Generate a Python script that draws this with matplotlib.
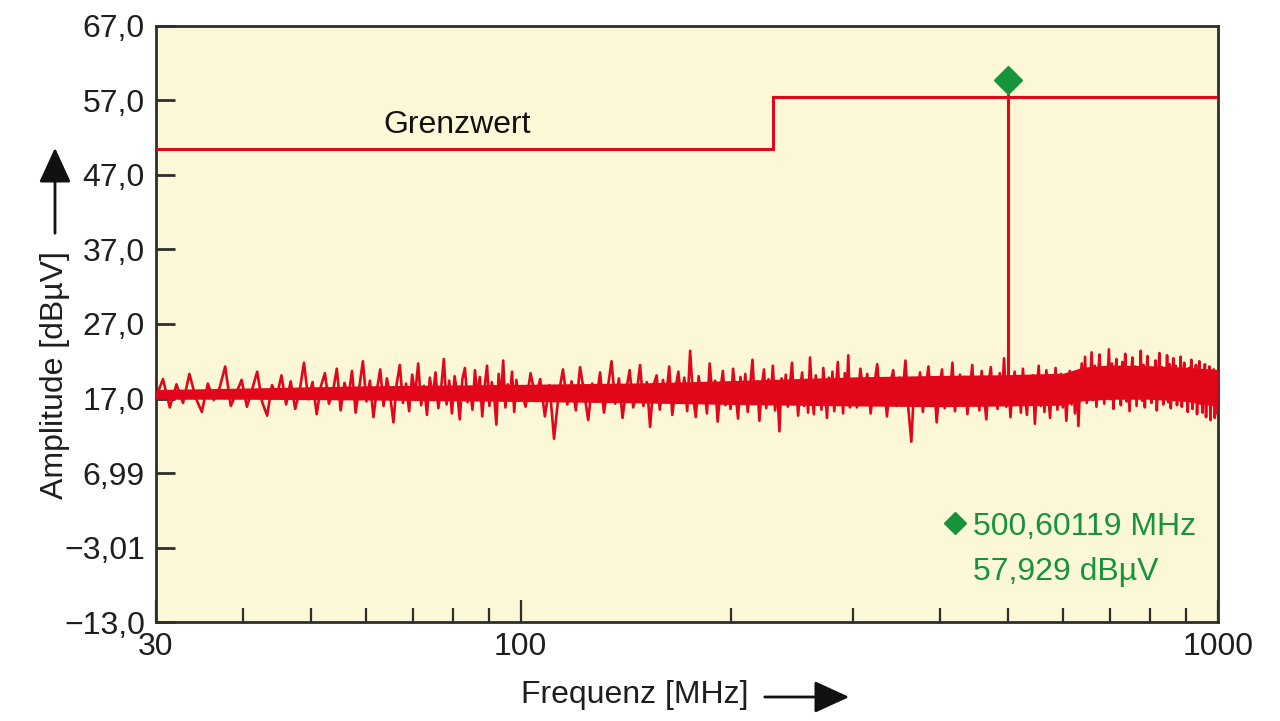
import numpy as np
import matplotlib
matplotlib.use("Agg")
import matplotlib.pyplot as plt
from matplotlib.transforms import offset_copy

plt.rcParams['font.family'] = ['Liberation Sans', 'DejaVu Sans']

# ---------------- data ----------------
# measured trace, three linear sweep segments (MHz ranges) with hand-read levels (dBuV)
seg1_range = (30, 100)
seg1 = [17.2, 19.6, 15.8, 18.9, 16.4, 20.3, 17.1, 15.2, 19.0, 16.8, 18.4, 21.3, 16.0, 17.7, 19.5,
        15.9, 18.2, 20.6, 16.5, 14.7, 18.8, 17.3, 20.1, 16.2, 19.3, 15.6, 18.0, 21.8, 16.9, 19.2,
        14.9, 18.6, 20.4, 16.3, 17.9, 21.0, 15.4, 19.1, 17.0, 20.7, 15.1, 18.5, 22.0, 16.6, 19.4,
        14.5, 18.1, 20.9, 16.0, 19.7, 17.4, 13.8, 18.9, 21.5, 16.4, 19.0, 15.3, 20.2, 17.6, 21.7,
        16.1, 18.7, 14.8, 19.8, 17.2, 20.5, 15.7, 18.3, 22.3, 16.2, 19.4, 15.0, 20.0, 17.8, 14.2,
        19.6, 21.1, 16.5, 18.4, 15.5, 20.8, 17.3, 19.9, 14.6, 18.6, 21.4, 16.0, 19.2, 17.5, 13.5,
        20.3, 16.8, 22.1, 15.8, 18.9, 17.1, 20.6, 15.2, 19.5, 16.7]
seg2_range = (100, 300)
seg2 = [18.3, 15.9, 20.4, 17.1, 19.6, 14.6, 18.8, 11.6, 17.5, 20.9, 16.2, 19.3, 15.4, 21.2, 17.8,
        14.1, 19.0, 16.6, 20.5, 15.1, 18.4, 22.0, 16.3, 19.7, 14.4, 18.1, 20.8, 15.8, 17.6, 21.5,
        16.0, 19.2, 13.2, 18.7, 20.1, 15.5, 19.5, 17.0, 21.3, 14.8, 18.2, 20.6, 16.4, 19.8, 15.3,
        23.4, 17.3, 14.5, 20.0, 16.8, 18.9, 15.0, 21.7, 17.4, 19.4, 13.9, 18.0, 20.7, 16.1, 19.1,
        15.6, 21.0, 17.7, 14.3, 19.9, 16.5, 20.3, 15.2, 18.6, 22.2, 16.7, 19.3, 14.0, 18.5, 20.9,
        15.7, 19.6, 17.2, 21.4, 15.4, 18.3, 12.6, 19.7, 16.9, 20.2, 15.9, 18.8, 21.8, 16.3, 19.0,
        14.7, 18.4, 20.5, 16.0, 19.5, 15.1, 22.5, 17.6, 14.9, 20.1, 16.6, 19.2, 15.5, 21.1, 17.9,
        14.4, 19.8, 16.2, 20.6, 15.3, 18.7, 21.9, 16.8, 19.4, 15.0, 20.4, 17.0, 22.8, 15.8, 19.1]
seg3_range = (300, 1000)
seg3 = [19.2, 15.8, 21.0, 17.1, 20.3, 15.0, 18.6, 21.6, 16.4, 19.5, 14.6, 18.9, 20.8, 16.0, 19.8,
        17.3, 22.1, 15.5, 11.2, 19.0, 16.7, 20.5, 15.2, 18.4, 21.3, 16.2, 19.7, 13.8, 18.1, 20.9,
        15.7, 19.4, 17.0, 21.8, 15.3, 18.7, 20.2, 16.5, 19.9, 14.9, 18.3, 21.5, 16.1, 19.6, 15.4,
        20.7, 17.4, 14.2, 19.1, 21.2, 16.6, 18.8, 15.6, 20.4, 17.2, 22.4, 15.9, 19.3, 14.5, 18.5,
        20.6, 16.3, 19.7, 15.1, 21.0, 17.5, 14.8, 19.5, 16.8, 20.1, 13.6, 18.2, 21.4, 16.0, 19.2,
        15.2, 20.8, 17.7, 14.4, 19.9, 16.9, 21.1, 15.5, 18.6, 20.3, 15.8, 19.0, 14.0, 17.9, 20.7,
        16.2, 19.4, 15.0, 20.2, 13.3, 18.5, 21.7, 17.2, 22.6, 16.4, 20.5, 18.1, 23.2, 16.8, 21.4,
        15.9, 20.0, 22.9, 17.5, 21.1, 16.3, 20.8, 18.6, 23.6, 16.9, 21.7, 15.6, 19.9, 22.3, 17.7,
        20.6, 16.1, 21.9, 18.3, 23.0, 16.6, 20.4, 15.3, 19.8, 22.5, 17.4, 21.3, 16.0, 20.9, 18.0,
        23.4, 16.7, 21.5, 15.8, 20.2, 22.7, 17.1, 21.0, 16.4, 20.7, 18.4, 22.1, 15.4, 19.6, 23.1,
        17.6, 21.2, 16.2, 20.5, 17.9, 22.8, 16.5, 21.6, 15.7, 20.1, 22.4, 17.3, 21.4, 16.1, 20.3,
        18.2, 22.6, 15.9, 19.7, 21.8, 16.8, 20.6, 15.2, 21.1, 17.8, 22.2, 15.6, 20.0, 17.0, 21.5,
        14.9, 19.4, 22.0, 16.3, 20.8, 15.1, 19.9, 21.6, 14.5, 19.2, 16.6, 21.3, 14.1, 19.8, 17.4,
        20.9, 14.4, 18.7, 15.0, 20.2]

# solid core of the noise band (hand-read envelope)
core_freqs = [30, 40, 60, 100, 150, 200, 300, 400, 500, 600, 640, 700, 800, 900, 1000]
core_lo = [16.9, 16.9, 16.8, 16.6, 16.4, 16.2, 16.0, 15.9, 16.0, 16.1, 16.7, 16.9, 16.9, 16.6, 15.9]
core_hi = [18.2, 18.4, 18.7, 18.9, 19.1, 19.4, 19.9, 20.1, 20.2, 20.4, 21.2, 21.5, 21.4, 21.2, 20.9]

# limit line (Grenzwert)
limit_edges = [30, 230, 1000]
limit_values = [50.5, 57.5]

# marker
marker_freq = 500.60119
marker_level = 57.929
spike_base = 18.0

# axis ticks
y_ticks = [67.0, 57.0, 47.0, 37.0, 27.0, 17.0, 6.99, -3.01, -13.0]
y_tick_labels = ["67,0", "57,0", "47,0", "37,0", "27,0", "17,0", "6,99", "\u22123,01", "\u221213,0"]
x_ticks = [30, 100, 1000]
x_tick_labels = ["30", "100", "1000"]
x_minor = [40, 50, 60, 70, 80, 90, 200, 300, 400, 500, 600, 700, 800, 900]

# ---------------- style ----------------
RED = "#e2061b"
GREEN = "#16943c"
BG = "#fcf7d6"
DARK = "#2e2e2e"
TXT = "#1e1e1e"
FS = 23

fig = plt.figure(figsize=(12.8, 7.21), dpi=100)
W, H = 1280, 721
ax = fig.add_axes([156 / W, 1 - 622 / H, (1218 - 156) / W, (622 - 26) / H])
ax.set_facecolor(BG)
ax.set_xscale("log")
ax.set_xlim(30, 1000)
ax.set_ylim(-13, 67)

freqs = np.concatenate([
    np.linspace(seg1_range[0], seg1_range[1], len(seg1), endpoint=False),
    np.linspace(seg2_range[0], seg2_range[1], len(seg2), endpoint=False),
    np.linspace(seg3_range[0], seg3_range[1], len(seg3)),
])
levels = np.concatenate([seg1, seg2, seg3])
ax.fill_between(core_freqs, core_lo, core_hi, color=RED, lw=0, zorder=3)
ax.plot(freqs, levels, color=RED, lw=1.9, zorder=3)

ax.stairs(limit_values, limit_edges, baseline=None, color=RED, lw=2.2, zorder=4)
ax.vlines(marker_freq, spike_base, marker_level, color=RED, lw=2.2, zorder=4)
ax.plot([marker_freq], [marker_level], marker="D", ms=14, color=GREEN, ls="none",
        transform=offset_copy(ax.transData, fig=fig, y=14, units="dots"), zorder=5,
        clip_on=False)

ax.text(0.2834, 0.8205, "Grenzwert", transform=ax.transAxes, fontsize=FS,
        ha="center", va="baseline", color="#111111")

ax.plot([0.752], [0.166], marker="D", ms=11, color=GREEN, transform=ax.transAxes, ls="none")
ax.text(0.769, 0.146, f"{marker_freq:.5f}".replace(".", ",") + " MHz",
        transform=ax.transAxes, fontsize=FS, ha="left", va="baseline", color=GREEN)
ax.text(0.769, 0.0705, f"{marker_level:.3f}".replace(".", ",") + " dB\u00b5V",
        transform=ax.transAxes, fontsize=FS, ha="left", va="baseline", color=GREEN)

# ticks
ax.set_yticks(y_ticks)
ax.set_yticklabels(y_tick_labels)
ax.set_xticks(x_ticks)
ax.set_xticklabels(x_tick_labels)
ax.set_xticks(x_minor, minor=True)
ax.xaxis.set_minor_formatter(matplotlib.ticker.NullFormatter())
ax.tick_params(axis="y", direction="in", length=14, width=2, color=DARK,
               labelsize=FS, pad=8, labelcolor=TXT)
ax.tick_params(axis="x", which="major", direction="in", length=16, width=1.6, color=DARK,
               labelsize=FS, pad=7, labelcolor=TXT)
ax.tick_params(axis="x", which="minor", direction="in", length=10, width=1.6, color=DARK)
for s in ax.spines.values():
    s.set_color(DARK)
    s.set_linewidth(2)

# axis labels with arrows
fig.text(55 / W, 1 - 375 / H, "Amplitude [dB\u00b5V]", rotation=90, fontsize=FS,
         ha="center", va="center", color=TXT)
fig.text(635 / W, 1 - 695 / H, "Frequenz [MHz]", fontsize=FS,
         ha="center", va="center", color=TXT)
arrow_kw = dict(arrowstyle="-|>,head_length=1.2,head_width=0.55", color="#111111", lw=2)
fig.add_artist(matplotlib.patches.FancyArrowPatch((55 / W, 1 - 236 / H), (55 / W, 1 - 145 / H),
               transform=fig.transFigure, mutation_scale=18, **arrow_kw))
fig.add_artist(matplotlib.patches.FancyArrowPatch((762 / W, 1 - 697 / H), (852 / W, 1 - 697 / H),
               transform=fig.transFigure, mutation_scale=18, **arrow_kw))

fig.savefig("out.png", dpi=100, facecolor="white")
